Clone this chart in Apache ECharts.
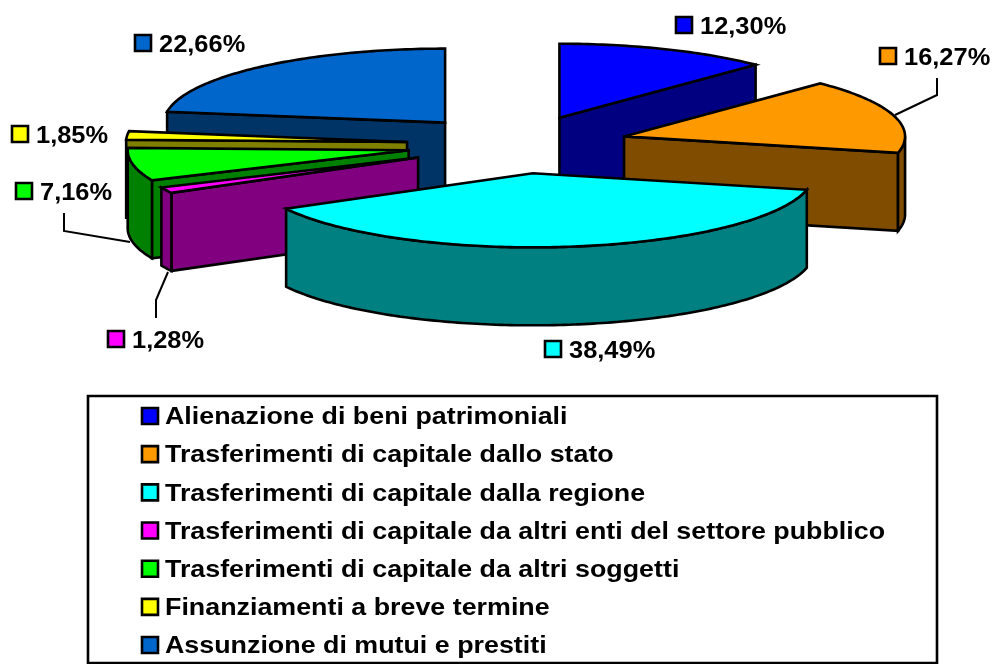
<!DOCTYPE html>
<html>
<head>
<meta charset="utf-8">
<script src="https://cdn.jsdelivr.net/npm/echarts@6/dist/echarts.min.js"></script>
<style>
  html, body { margin: 0; padding: 0; background: #fff; }
  #chart { width: 992px; height: 664px; }
</style>
</head>
<body>
<div id="chart"></div>
<script>
const categories = [
  'Alienazione di beni patrimoniali',
  'Trasferimenti di capitale dallo stato',
  'Trasferimenti di capitale dalla regione',
  'Trasferimenti di capitale da altri enti del settore pubblico',
  'Trasferimenti di capitale da altri soggetti',
  'Finanziamenti a breve termine',
  'Assunzione di mutui e prestiti'
];
const values = [12.30, 16.27, 38.49, 1.28, 7.16, 1.85, 22.66];
const topColors = ['#0000ff', '#ff9900', '#00ffff', '#ff00ff', '#00ff00', '#ffff00', '#0066cc'];
const wallColors = ['#000080', '#804d00', '#008080', '#800080', '#008000', '#808000', '#003366'];

// layout of the fake 3d pie
const CX = 517.6, CY = 144.6;
const RX = 281, RY = 74;
const EXPLODE_X = 111, EXPLODE_Y = 29;
const DEPTH = 78;
const FONT_FAMILY = '"Liberation Sans", Arial, sans-serif';
const LINE = 2.6;

// square + text of each data label, then the leader line if there is one
const labelBoxes = [[676, 17], [880, 48], [545, 341], [108, 331], [16, 183], [12, 126], [135, 35]];
const leaders = [
  null,
  [[937, 78], [937, 95], [895, 115]],
  null,
  [[156, 318], [156, 300], [168, 272]],
  [[64, 213], [64, 231], [130, 242]],
  null,
  null
];

const total = values.reduce((a, b) => a + b, 0);
let sum = 0;
const slices = values.map(function (v, i) {
  const start = sum / total * 360;
  sum += v;
  const end = sum / total * 360;
  const mid = (start + end) / 2 * Math.PI / 180;
  return {
    index: i,
    start: start,
    end: end,
    ax: CX + EXPLODE_X * Math.sin(mid),
    ay: CY - EXPLODE_Y * Math.cos(mid)
  };
});

function arcPoint(s, deg, drop) {
  const r = deg * Math.PI / 180;
  return [s.ax + RX * Math.sin(r), s.ay - RY * Math.cos(r) + drop];
}

function arcPoints(s, from, to, drop) {
  const pts = [];
  const n = Math.max(2, Math.ceil(to - from));
  for (let k = 0; k <= n; k++) {
    pts.push(arcPoint(s, from + (to - from) * k / n, drop));
  }
  return pts;
}

function poly(points, fill) {
  return {
    type: 'polygon',
    shape: { points: points },
    style: { fill: fill, stroke: '#000', lineWidth: LINE, lineJoin: 'miter', miterLimit: 4 }
  };
}

function square(x, y, fill) {
  return {
    type: 'rect',
    shape: { x: x, y: y, width: 16, height: 16 },
    style: { fill: fill, stroke: '#000', lineWidth: LINE }
  };
}

function label(text, x, y, size, stretch) {
  return {
    type: 'text',
    x: x,
    y: y,
    scaleX: stretch,
    style: {
      text: text,
      font: 'bold ' + size + 'px ' + FONT_FAMILY,
      fill: '#000',
      verticalAlign: 'middle'
    }
  };
}

// wall under the cut edge going from the apex to the rim at angle deg
function edgeWall(s, deg, fill) {
  const p = arcPoint(s, deg, 0);
  return poly([[s.ax, s.ay], p, [p[0], p[1] + DEPTH], [s.ax, s.ay + DEPTH]], fill);
}

function renderSlice(s) {
  const i = s.index;
  const kids = [];
  if (s.start > 180 && s.start < 360) kids.push(edgeWall(s, s.start, wallColors[i]));
  if (s.end > 0 && s.end < 180) kids.push(edgeWall(s, s.end, wallColors[i]));
  const a = Math.max(s.start, 90), b = Math.min(s.end, 270);
  if (b > a) {
    kids.push(poly(arcPoints(s, a, b, 0).concat(arcPoints(s, a, b, DEPTH).reverse()), wallColors[i]));
  }
  kids.push(poly([[s.ax, s.ay]].concat(arcPoints(s, s.start, s.end, 0)), topColors[i]));

  if (leaders[i]) {
    kids.push({
      type: 'polyline',
      shape: { points: leaders[i] },
      style: { fill: null, stroke: '#000', lineWidth: 2 }
    });
  }
  const box = labelBoxes[i];
  kids.push(square(box[0], box[1], topColors[i]));
  kids.push(label(values[i].toFixed(2).replace('.', ',') + '%', box[0] + 24, box[1] + 10, 24, 1.06));

  // legend row, the text in the reference is stretched so the legend component can't do it
  const rowY = 416 + 38.17 * i;
  kids.push(square(142, rowY - 8, topColors[i]));
  kids.push(label(categories[i], 165, rowY + 1.5, 24.5, 1.095));

  return { type: 'group', children: kids };
}

// back slices first
const drawOrder = slices.slice().sort((a, b) => a.ay - b.ay);

const chart = echarts.init(document.getElementById('chart'));
chart.setOption({
  animation: false,
  backgroundColor: '#fff',
  graphic: [{
    type: 'rect',
    z: 0,
    shape: { x: 88, y: 396, width: 849, height: 267 },
    style: { fill: '#fff', stroke: '#000', lineWidth: LINE }
  }],
  series: drawOrder.map(function (s) {
    return {
      type: 'custom',
      name: categories[s.index],
      coordinateSystem: 'none',
      silent: true,
      data: [values[s.index]],
      renderItem: function () {
        return renderSlice(s);
      }
    };
  })
});
</script>
</body>
</html>
